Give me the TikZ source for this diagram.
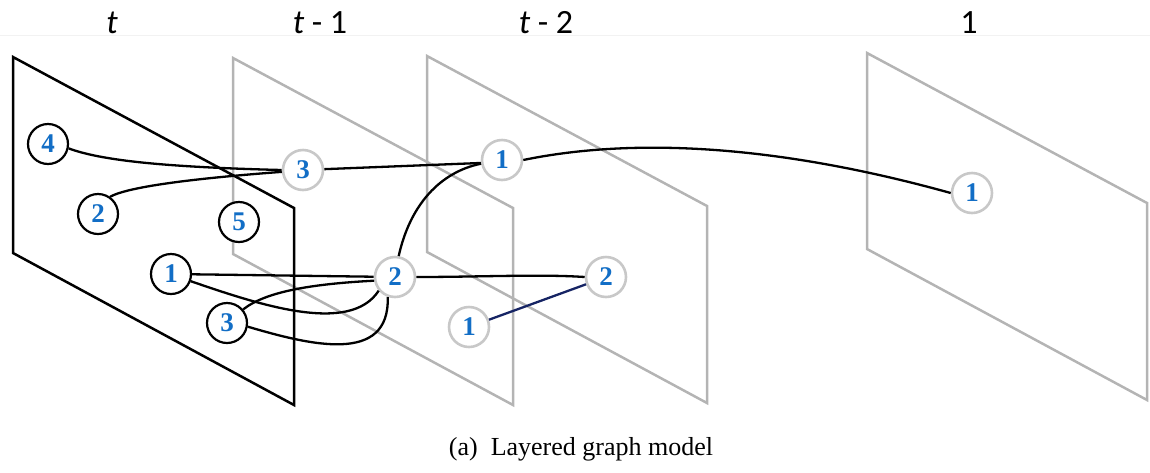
\documentclass[tikz,border=0pt]{standalone}
\usepackage{fontspec}
\setmainfont{Liberation Serif}
\newfontfamily\calibri{Carlito}
\usepackage{tikz}
\usetikzlibrary{calc}
\definecolor{numblue}{RGB}{18,110,198}
\definecolor{planegray}{RGB}{180,180,180}
\definecolor{ringgray}{RGB}{200,200,200}
\definecolor{navy}{RGB}{22,36,100}

\begin{document}
\begin{tikzpicture}[
  x=0.5pt, y=-0.5pt,
  plane/.style={draw=planegray, line width=1.25pt, line join=miter},
  front/.style={draw=black, line width=1.25pt, line join=miter},
  vtx/.style={
    circle, draw=black, fill=white, line width=1.1pt, inner sep=0pt,
    minimum size=20pt, text=numblue, font=\fontsize{13.5}{15}\selectfont\bfseries
  },
  old/.style={vtx, draw=ringgray, line width=1.3pt},
  link/.style={line width=1.15pt, black},
  header/.style={anchor=base, font=\calibri\fontsize{17}{19}\selectfont}
]
\useasboundingbox (0,0) rectangle (1150,472);
\draw[gray!10, line width=0.4pt] (0,35) -- (1150,35);

% layers, back to front
\foreach \x/\y in {867/53, 427/56, 233/58}
  \draw[plane] (\x,\y) -- ++(0,196) -- ++(280,151) -- ++(0,-197) -- cycle;
\draw[front] (13,57) -- ++(0,196) -- ++(281,152) -- ++(0,-197) -- cycle;

\node[header] (ht) at (112,33) {\itshape t};
\node[header] (h1) at (320,33) {{\itshape t} - 1};
\node[header] (h2) at (546,33) {{\itshape t} - 2};
\node[header] (h0) at (969,33) {1};

% layer t
\node[vtx] (t4) at (48,144)  {4};
\node[vtx] (t2) at (98,214)  {2};
\node[vtx] (t5) at (239,222) {5};
\node[vtx] (t1) at (171,274) {1};
\node[vtx] (t3) at (227,323) {3};

% layer t-1
\node[old] (u3) at (303,170) {3};
\node[old] (u2) at (395,277) {2};

% layer t-2
\node[old] (v1) at (502,160) {1};
\node[old] (v2) at (606,277) {2};
\node[old] (v0) at (469,327) {1};

% layer 1
\node[old] (w1) at (972,193) {1};

\draw[link] (t4.-12) .. controls (100,160) and (160,167) .. (u3.west);
\draw[link] (t2.55) .. controls (130,186) and (200,178) .. (u3.185);
\draw[link] (u3) -- (v1.188);
\draw[link] (v1.east) .. controls (620,140) and (760,140) .. (w1.west);
\draw[link] (u2.80) .. controls (410,205) and (440,172) .. (v1.190);
\draw[link] (t1) -- (u2);
\draw[link] (t1.-20) .. controls (260,305) and (350,335) .. (u2.-140);
\draw[link] (t3.40) .. controls (265,292) and (310,284) .. (u2.190);
\draw[link] (t3.-10) .. controls (310,345) and (390,365) .. (u2.-110);
\draw[link] (u2.east) .. controls (480,277) and (540,274) .. (v2.west);
\draw[navy, line width=1.15pt] (v0) -- (v2);

\node[anchor=base, font=\fontsize{13}{15}\selectfont] (cap) at (581,455) {(a)~~Layered graph model};
\end{tikzpicture}
\end{document}
